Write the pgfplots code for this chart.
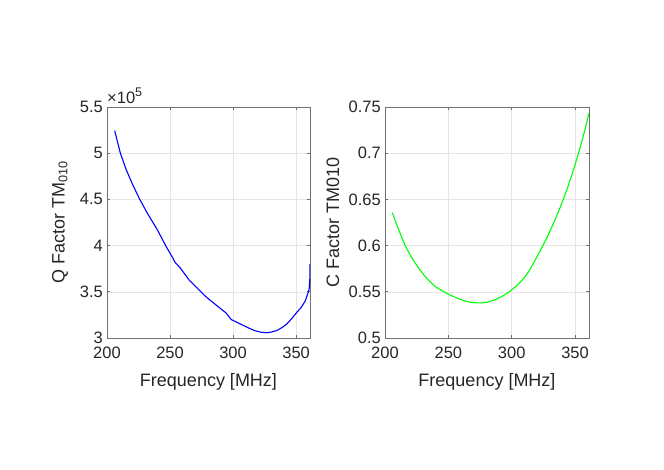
\documentclass[border=0pt]{standalone}
\usepackage{fontspec}
\setmainfont{Liberation Sans}
\usepackage{pgfplots}
\pgfplotsset{compat=1.18}
\definecolor{txt}{HTML}{262626}
\definecolor{axc}{HTML}{707070}
\pgfplotsset{mystyle/.style={
  scale only axis, width=203pt, height=231pt,
  xmin=200, xmax=361, xtick={200,250,300,350},
  grid=major, grid style={line width=0.5pt, color=black!10},
  axis line style={color=axc, line width=0.6pt},
  tick style={color=axc, line width=0.6pt},
  tick align=inside, major tick length=3pt,
  ticklabel style={font=\fontsize{16.5}{18}\selectfont, color=txt, inner sep=1pt},
  xticklabel style={yshift=-7.5pt},
  yticklabel style={xshift=-3pt},
  label style={font=\fontsize{18}{20}\selectfont, color=txt},
  /pgf/number format/assume math mode=true,
  xlabel={Frequency [MHz]},
  xlabel style={at={([yshift=-44pt]axis description cs:0.5,0)}, anchor=center},
}}
\begin{document}
\begin{tikzpicture}
\path[use as bounding box] (0,0) rectangle (664pt,470pt);
\begin{axis}[mystyle, name=ax1, at={(107pt,132pt)}, anchor=south west,
  ymin=3, ymax=5.5, ytick={3,3.5,4,4.5,5,5.5},
  ylabel={Q Factor TM\textsubscript{010}},
  ylabel style={at={([xshift=-47pt]axis description cs:0,0.5)}, anchor=center}]
\addplot[blue, line width=1.1pt] coordinates {
(206.1,5.244) (210.6,5.00) (215,4.83) (220,4.67) (226,4.50) (232,4.35)
(240,4.17) (246.5,4.00) (252,3.87) (253.5,3.83) (254.6,3.81) (258,3.76)
(265,3.63) (274.5,3.50) (278.5,3.446) (286.5,3.357) (294.5,3.27) (298.5,3.20)
(306.5,3.147) (312,3.11) (317.1,3.08) (322,3.063) (326.5,3.057) (330,3.063)
(334.5,3.08) (338.5,3.11) (342.5,3.15) (346.5,3.21) (350.5,3.277) (354,3.33)
(357.2,3.40) (359.5,3.49) (360.4,3.537) (360.9,3.65) (361,3.80)
};
\end{axis}
\node[anchor=south west, inner sep=0pt, font=\fontsize{16.5}{18}\selectfont, text=txt] at ([yshift=3pt]ax1.north west) {×10\raisebox{0.45em}{\fontsize{12.5}{14}\selectfont 5}};
\begin{axis}[mystyle, at={(385pt,132pt)}, anchor=south west,
  width=204pt,
  ymin=0.5, ymax=0.75, ytick={0.5,0.55,0.6,0.65,0.7,0.75},
  yticklabel style={/pgf/number format/fixed, /pgf/number format/precision=2},
  ylabel={C Factor TM010},
  ylabel style={at={([xshift=-52pt]axis description cs:0,0.5)}, anchor=center}]
\addplot[color={rgb,1:red,0;green,1;blue,0}, line width=1.1pt, smooth] coordinates {
(205.8,0.6356) (210,0.620) (216,0.600) (222,0.585) (228,0.573) (234,0.563)
(240,0.5555) (246.5,0.550) (253,0.5455) (260,0.5415) (266,0.539) (273.2,0.538)
(280,0.5385) (287,0.5415) (293,0.5455) (298,0.550) (305,0.558) (312,0.569)
(318,0.583) (324.6,0.600) (330,0.6151) (336,0.6337) (342,0.6547) (348,0.6787)
(353,0.7012) (357,0.7212) (361,0.7436)
};
\end{axis}
\end{tikzpicture}
\end{document}
